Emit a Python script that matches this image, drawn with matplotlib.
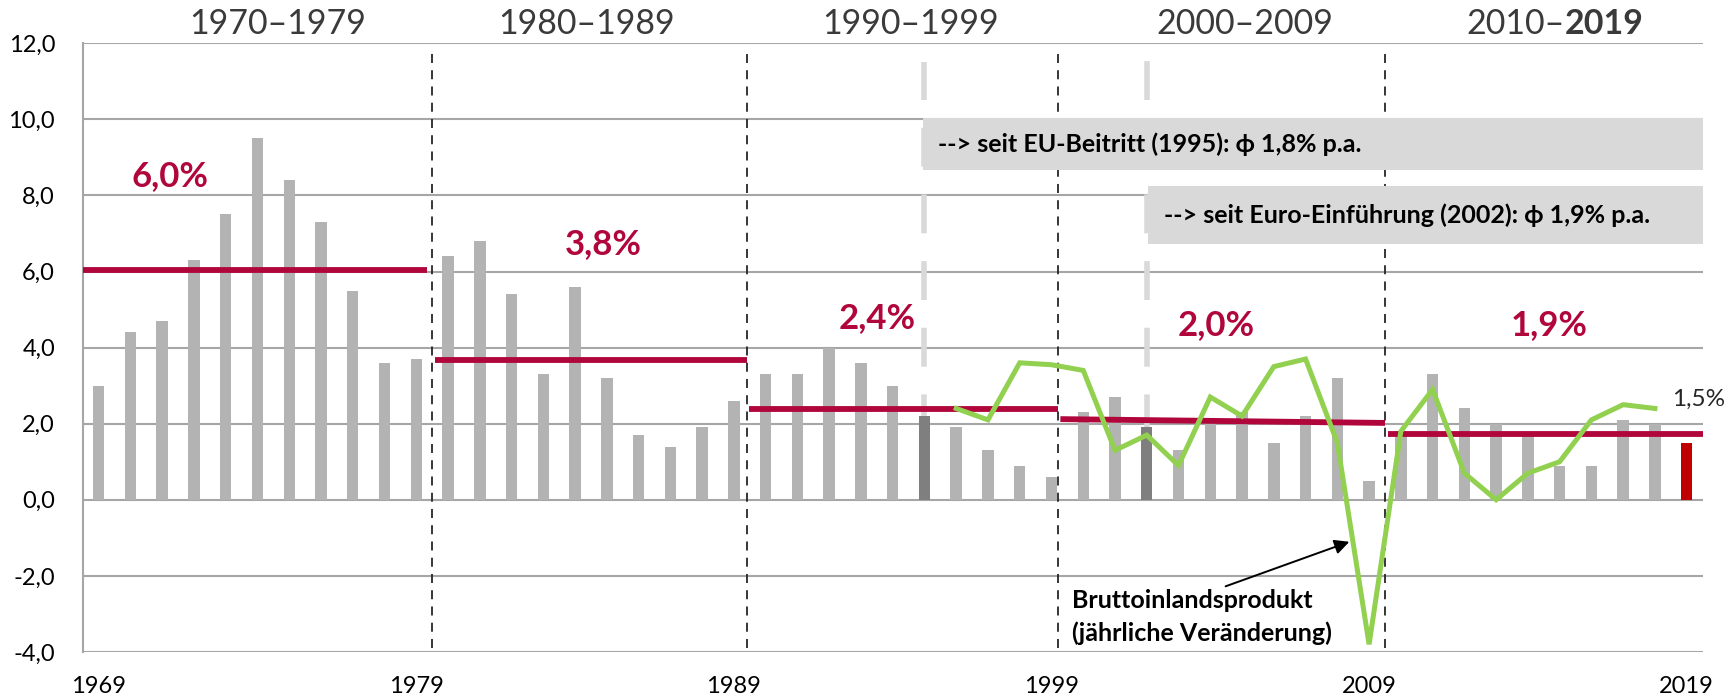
import matplotlib
matplotlib.use("Agg")
import matplotlib.pyplot as plt
from matplotlib.patches import Rectangle
from matplotlib.ticker import FuncFormatter

# ----------------------------
# Daten
# ----------------------------
jahre = list(range(1969, 2020))
inflation = [3.0, 4.4, 4.7, 6.3, 7.5, 9.5, 8.4, 7.3, 5.5, 3.6,
             3.7, 6.4, 6.8, 5.4, 3.3, 5.6, 3.2, 1.7, 1.4, 1.9,
             2.6, 3.3, 3.3, 4.0, 3.6, 3.0, 2.2, 1.9, 1.3, 0.9,
             0.6, 2.3, 2.7, 1.9, 1.3, 2.1, 2.3, 1.5, 2.2, 3.2,
             0.5, 1.8, 3.3, 2.4, 2.0, 1.7, 0.9, 0.9, 2.1, 2.0,
             1.5]
hervorgehoben = [1995, 2002]   # dunkle Balken
aktuell = 2019                 # roter Balken

bip_jahre = list(range(1996, 2019))
bip = [2.4, 2.1, 3.6, 3.55, 3.4, 1.3, 1.7, 0.9, 2.7, 2.2, 3.5, 3.7,
       1.5, -3.8, 1.8, 2.9, 0.7, 0.0, 0.7, 1.0, 2.1, 2.5, 2.4]

# Dekaden-Durchschnitte
dekaden = ["1970–1979", "1980–1989", "1990–1999", "2000–2009", "2010–"]
schnitt_labels = ["6,0%", "3,8%", "2,4%", "2,0%", "1,9%"]
schnitt_links = [6.03, 3.68, 2.38, 2.12, 1.72]
schnitt_rechts = [6.03, 3.68, 2.38, 2.02, 1.72]
grenzen = [1968.5, 1979.5, 1989.4, 1999.2, 2009.5, 2019.5]

# ----------------------------
# Farben / Stil
# ----------------------------
GRAU = "#b3b3b3"
DUNKEL = "#7f7f7f"
ROT = "#c00000"
WEINROT = "#b0063b"
GRUEN = "#92d050"
GITTER = "#a6a6a6"
TEXT = "#3a3a3a"

plt.rcParams["font.family"] = ["Lato", "DejaVu Sans"]

fig = plt.figure(figsize=(17.25, 6.98), dpi=100)
ax = fig.add_axes([0.048, 0.066, 0.939, 0.872])

farben = []
for j in jahre:
    if j == aktuell:
        farben.append(ROT)
    elif j in hervorgehoben:
        farben.append(DUNKEL)
    else:
        farben.append(GRAU)
ax.bar(jahre, inflation, width=0.36, color=farben, zorder=3)

# Gitter
for y in range(-4, 13, 2):
    ax.axhline(y, color=GITTER, lw=1.5, zorder=1)

# Trennlinien der Dekaden
for g in grenzen[1:-1]:
    ax.plot([g, g], [-3.9, 11.75], color="#262626", lw=1.3,
            ls=(0, (5, 4)), zorder=2)

# helle Linien EU-Beitritt / Euro
ax.plot([1995, 1995], [0, 11.5], color="#d9d9d9", lw=4, ls=(0, (7, 5)), zorder=2)
ax.plot([2002, 2002], [0, 11.75], color="#d9d9d9", lw=4, ls=(0, (7, 5)), zorder=2)

# Textboxen
ax.add_patch(Rectangle((1994.95, 8.67), 2019.5 - 1994.95, 1.36,
                       color="#d9d9d9", zorder=4, lw=0))
ax.text(1995.42, 9.34, "--> seit EU-Beitritt (1995): ϕ 1,8% p.a.",
        fontsize=18, fontweight="bold", color="black", va="center", zorder=5)
ax.add_patch(Rectangle((2002.05, 6.73), 2019.5 - 2002.05, 1.51,
                       color="#d9d9d9", zorder=4, lw=0))
ax.text(2002.53, 7.49, "--> seit Euro-Einführung (2002): ϕ 1,9% p.a.",
        fontsize=18, fontweight="bold", color="black", va="center", zorder=5)

# Durchschnittslinien
for i in range(5):
    x0 = grenzen[i] + (0.08 if i > 0 else 0)
    x1 = grenzen[i + 1] - (0.15 if i == 0 else 0)
    ax.plot([x0, x1], [schnitt_links[i], schnitt_rechts[i]], color=WEINROT,
            lw=4.2, solid_capstyle="butt", zorder=6)

lab_x = [1971.25, 1984.88, 1993.5, 2004.2, 2014.67]
lab_y = [8.5, 6.73, 4.77, 4.6, 4.6]
for i in range(5):
    ax.text(lab_x[i], lab_y[i], schnitt_labels[i], color=WEINROT, fontsize=25,
            fontweight="bold", ha="center", va="center", zorder=7)

# BIP-Linie
ax.plot(bip_jahre, bip, color=GRUEN, lw=3.6, zorder=8, solid_joinstyle="miter")
ax.text(2018.55, 2.63, "1,5%", fontsize=17.5, color="#262626", va="center", zorder=8)

ax.annotate("", xy=(2008.46, -1.08), xytext=(2004.4, -2.3),
            arrowprops=dict(arrowstyle="-|>", color="black", lw=1.4,
                            mutation_scale=22), zorder=9)
ax.text(1999.65, -2.64, "Bruttoinlandsprodukt", fontsize=18, fontweight="bold",
        va="center", zorder=9)
ax.text(1999.65, -3.51, "(jährliche Veränderung)", fontsize=18, fontweight="bold",
        va="center", zorder=9)

# Dekaden-Überschriften
kopf_x = [1974.65, 1984.36, 1994.55, 2005.1]
for i in range(4):
    ax.text(kopf_x[i], 12.5, dekaden[i], fontsize=24.5, color=TEXT,
            ha="center", va="center", clip_on=False)
ax.text(2015.15, 12.5, dekaden[4], fontsize=24.5, color=TEXT,
        ha="right", va="center", clip_on=False)
ax.text(2015.15, 12.5, "2019", fontsize=24.5, color=TEXT, fontweight="bold",
        ha="left", va="center", clip_on=False)

# Achsen
ax.set_xlim(1968.5, 2019.5)
ax.set_ylim(-4, 12)
ax.set_yticks(range(-4, 13, 2))
ax.yaxis.set_major_formatter(FuncFormatter(lambda v, p: f"{v:.1f}".replace(".", ",")))
ax.set_xticks([1969, 1979, 1989, 1999, 2009, 2019])
ax.tick_params(axis="both", length=0, labelsize=17, colors="black")
ax.tick_params(axis="x", pad=17)
ax.tick_params(axis="y", pad=20)
for s in ["top", "right", "bottom"]:
    ax.spines[s].set_visible(False)
ax.spines["left"].set_color(GITTER)
ax.spines["left"].set_linewidth(1.5)

fig.savefig("out.png", dpi=100)
